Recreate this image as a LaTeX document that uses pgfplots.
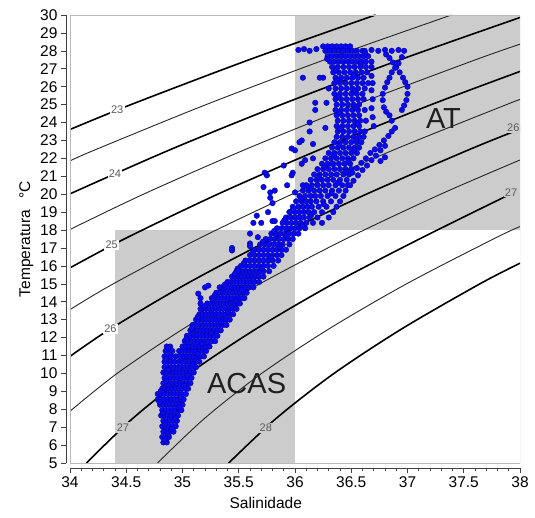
\documentclass[border=0pt]{standalone}
\usepackage{fontspec}
\setmainfont{Liberation Sans}
\usepackage{pgfplots}
\pgfplotsset{compat=1.18}
\usetikzlibrary{calc}

\definecolor{shade}{RGB}{204,204,204}
\definecolor{frame}{RGB}{185,185,185}
\definecolor{dotfill}{RGB}{10,10,240}
\definecolor{dotedge}{RGB}{0,0,160}
\definecolor{isolab}{RGB}{90,90,90}

\tikzset{
  isothick/.style={black, line width=1.6pt, smooth},
  isothin/.style={black!85, line width=0.9pt, smooth},
  isolabel/.style={font=\fontsize{11}{12}\selectfont, text=isolab, inner sep=1.2pt},
}

% temperature--salinity pairs of the CTD casts
\pgfplotstableread{
S T
34.83 6.15
34.86 6.15
34.82 6.45
34.85 6.45
34.88 6.45
34.83 6.75
34.86 6.75
34.89 6.75
34.92 6.75
34.82 7.05
34.85 7.05
34.88 7.05
34.91 7.05
34.94 7.05
34.83 7.35
34.86 7.35
34.89 7.35
34.92 7.35
34.95 7.35
34.81 7.65
34.84 7.65
34.87 7.65
34.90 7.65
34.93 7.65
34.96 7.65
34.82 7.95
34.85 7.95
34.88 7.95
34.91 7.95
34.94 7.95
34.97 7.95
34.99 7.95
34.80 8.25
34.83 8.25
34.86 8.25
34.89 8.25
34.92 8.25
34.95 8.25
34.98 8.25
35.00 8.25
34.78 8.55
34.81 8.55
34.84 8.55
34.87 8.55
34.90 8.55
34.93 8.55
34.96 8.55
34.99 8.55
35.01 8.55
34.78 8.85
34.81 8.85
34.84 8.85
34.87 8.85
34.90 8.85
34.93 8.85
34.96 8.85
34.99 8.85
35.03 8.85
34.82 9.15
34.85 9.15
34.88 9.15
34.91 9.15
34.94 9.15
34.97 9.15
35.00 9.15
35.03 9.15
35.05 9.15
34.83 9.45
34.86 9.45
34.89 9.45
34.92 9.45
34.95 9.45
34.98 9.45
35.01 9.45
35.04 9.45
35.07 9.45
34.84 9.75
34.87 9.75
34.90 9.75
34.93 9.75
34.96 9.75
34.99 9.75
35.02 9.75
35.05 9.75
35.08 9.75
34.83 10.05
34.86 10.05
34.89 10.05
34.92 10.05
34.95 10.05
34.98 10.05
35.01 10.05
35.04 10.05
35.07 10.05
35.10 10.05
34.84 10.35
34.87 10.35
34.90 10.35
34.93 10.35
34.96 10.35
34.99 10.35
35.02 10.35
35.05 10.35
35.08 10.35
35.12 10.35
34.84 10.65
34.87 10.65
34.90 10.65
34.93 10.65
34.97 10.65
35.00 10.65
35.03 10.65
35.06 10.65
35.09 10.65
35.12 10.65
35.15 10.65
34.84 10.95
34.87 10.95
34.90 10.95
34.94 10.95
34.98 10.95
35.01 10.95
35.04 10.95
35.07 10.95
35.10 10.95
35.13 10.95
35.16 10.95
35.19 10.95
34.85 11.25
34.88 11.25
34.91 11.25
34.97 11.25
35.00 11.25
35.03 11.25
35.06 11.25
35.09 11.25
35.12 11.25
35.15 11.25
35.18 11.25
35.21 11.25
34.86 11.50
34.89 11.50
35.00 11.50
35.03 11.50
35.06 11.50
35.09 11.50
35.12 11.50
35.15 11.50
35.18 11.50
35.21 11.50
35.24 11.50
35.02 11.80
35.05 11.80
35.08 11.80
35.11 11.80
35.14 11.80
35.17 11.80
35.20 11.80
35.23 11.80
35.26 11.80
35.29 11.80
35.04 12.10
35.07 12.10
35.10 12.10
35.13 12.10
35.16 12.10
35.19 12.10
35.22 12.10
35.25 12.10
35.28 12.10
35.31 12.10
35.07 12.40
35.10 12.40
35.13 12.40
35.16 12.40
35.19 12.40
35.22 12.40
35.25 12.40
35.28 12.40
35.31 12.40
35.34 12.40
35.09 12.70
35.12 12.70
35.15 12.70
35.18 12.70
35.21 12.70
35.24 12.70
35.27 12.70
35.30 12.70
35.33 12.70
35.36 12.70
35.39 12.70
35.12 13.00
35.15 13.00
35.18 13.00
35.21 13.00
35.24 13.00
35.27 13.00
35.30 13.00
35.33 13.00
35.36 13.00
35.39 13.00
35.42 13.00
35.15 13.30
35.18 13.30
35.21 13.30
35.24 13.30
35.27 13.30
35.30 13.30
35.33 13.30
35.36 13.30
35.39 13.30
35.42 13.30
35.45 13.30
35.18 13.60
35.21 13.60
35.24 13.60
35.27 13.60
35.30 13.60
35.33 13.60
35.36 13.60
35.39 13.60
35.42 13.60
35.45 13.60
35.48 13.60
35.22 13.90
35.25 13.90
35.28 13.90
35.31 13.90
35.34 13.90
35.37 13.90
35.40 13.90
35.43 13.90
35.46 13.90
35.49 13.90
35.51 13.90
35.26 14.20
35.29 14.20
35.32 14.20
35.35 14.20
35.38 14.20
35.41 14.20
35.44 14.20
35.47 14.20
35.50 14.20
35.53 14.20
35.55 14.20
35.30 14.50
35.33 14.50
35.36 14.50
35.39 14.50
35.42 14.50
35.45 14.50
35.48 14.50
35.51 14.50
35.54 14.50
35.57 14.50
35.35 14.80
35.38 14.80
35.41 14.80
35.44 14.80
35.47 14.80
35.50 14.80
35.53 14.80
35.56 14.80
35.59 14.80
35.63 14.80
35.40 15.10
35.43 15.10
35.46 15.10
35.49 15.10
35.52 15.10
35.55 15.10
35.58 15.10
35.61 15.10
35.64 15.10
35.68 15.10
35.44 15.40
35.47 15.40
35.50 15.40
35.53 15.40
35.56 15.40
35.59 15.40
35.62 15.40
35.65 15.40
35.68 15.40
35.72 15.40
35.48 15.70
35.51 15.70
35.54 15.70
35.57 15.70
35.60 15.70
35.63 15.70
35.66 15.70
35.69 15.70
35.72 15.70
35.77 15.70
35.52 16.00
35.56 16.00
35.60 16.00
35.64 16.00
35.68 16.00
35.72 16.00
35.76 16.00
35.81 16.00
35.56 16.30
35.60 16.30
35.64 16.30
35.68 16.30
35.72 16.30
35.76 16.30
35.80 16.30
35.85 16.30
35.60 16.60
35.64 16.60
35.68 16.60
35.72 16.60
35.76 16.60
35.80 16.60
35.84 16.60
35.88 16.60
35.64 16.90
35.68 16.90
35.72 16.90
35.76 16.90
35.80 16.90
35.84 16.90
35.88 16.90
35.92 16.90
35.69 17.20
35.73 17.20
35.77 17.20
35.81 17.20
35.85 17.20
35.89 17.20
35.95 17.20
35.74 17.50
35.78 17.50
35.82 17.50
35.86 17.50
35.90 17.50
35.94 17.50
35.98 17.50
35.79 17.80
35.83 17.80
35.87 17.80
35.91 17.80
35.95 17.80
35.99 17.80
36.03 17.80
35.84 18.10
35.88 18.10
35.92 18.10
35.96 18.10
36.00 18.10
36.04 18.10
36.09 18.10
35.89 18.40
35.93 18.40
35.97 18.40
36.01 18.40
36.05 18.40
36.10 18.40
36.16 18.40
36.24 18.40
35.92 18.70
35.96 18.70
36.00 18.70
36.04 18.70
36.08 18.70
36.13 18.70
36.20 18.70
36.30 18.70
35.95 19.00
36.00 19.00
36.04 19.00
36.08 19.00
36.12 19.00
36.17 19.00
36.24 19.00
36.34 19.00
35.98 19.30
36.03 19.30
36.07 19.30
36.11 19.30
36.15 19.30
36.21 19.30
36.28 19.30
36.37 19.30
36.01 19.60
36.06 19.60
36.10 19.60
36.14 19.60
36.19 19.60
36.25 19.60
36.32 19.60
36.40 19.60
36.04 19.90
36.09 19.90
36.14 19.90
36.18 19.90
36.23 19.90
36.29 19.90
36.36 19.90
36.43 19.90
36.07 20.20
36.12 20.20
36.17 20.20
36.22 20.20
36.27 20.20
36.33 20.20
36.39 20.20
36.45 20.20
36.10 20.50
36.15 20.50
36.20 20.50
36.25 20.50
36.30 20.50
36.36 20.50
36.42 20.50
36.47 20.50
36.14 20.80
36.19 20.80
36.24 20.80
36.29 20.80
36.34 20.80
36.40 20.80
36.46 20.80
36.17 21.10
36.22 21.10
36.27 21.10
36.32 21.10
36.37 21.10
36.43 21.10
36.48 21.10
36.20 21.40
36.25 21.40
36.30 21.40
36.35 21.40
36.40 21.40
36.45 21.40
36.50 21.40
36.24 21.70
36.29 21.70
36.34 21.70
36.39 21.70
36.44 21.70
36.49 21.70
36.27 22.00
36.32 22.00
36.37 22.00
36.42 22.00
36.47 22.00
36.52 22.00
36.30 22.30
36.35 22.30
36.40 22.30
36.45 22.30
36.50 22.30
36.55 22.30
36.33 22.60
36.38 22.60
36.43 22.60
36.48 22.60
36.53 22.60
36.57 22.60
36.35 22.90
36.40 22.90
36.45 22.90
36.50 22.90
36.55 22.90
36.59 22.90
36.37 23.20
36.42 23.20
36.47 23.20
36.52 23.20
36.57 23.20
36.61 23.20
36.38 23.50
36.43 23.50
36.48 23.50
36.53 23.50
36.58 23.50
36.62 23.50
36.37 23.80
36.42 23.80
36.47 23.80
36.52 23.80
36.57 23.80
36.38 24.10
36.43 24.10
36.48 24.10
36.53 24.10
36.58 24.10
36.63 24.10
36.37 24.40
36.42 24.40
36.47 24.40
36.52 24.40
36.57 24.40
36.36 24.70
36.41 24.70
36.46 24.70
36.51 24.70
36.56 24.70
36.62 24.70
36.37 25.00
36.42 25.00
36.47 25.00
36.52 25.00
36.57 25.00
36.36 25.30
36.41 25.30
36.46 25.30
36.51 25.30
36.56 25.30
36.61 25.30
36.35 25.60
36.40 25.60
36.45 25.60
36.50 25.60
36.55 25.60
36.60 25.60
36.36 25.90
36.41 25.90
36.46 25.90
36.51 25.90
36.56 25.90
36.62 25.90
36.35 26.20
36.40 26.20
36.45 26.20
36.50 26.20
36.55 26.20
36.60 26.20
36.65 26.20
36.36 26.50
36.41 26.50
36.46 26.50
36.51 26.50
36.56 26.50
36.61 26.50
36.34 26.80
36.39 26.80
36.44 26.80
36.49 26.80
36.54 26.80
36.59 26.80
36.64 26.80
36.33 27.10
36.38 27.10
36.43 27.10
36.48 27.10
36.53 27.10
36.58 27.10
36.63 27.10
36.68 27.10
36.31 27.40
36.35 27.40
36.39 27.40
36.43 27.40
36.47 27.40
36.51 27.40
36.55 27.40
36.59 27.40
36.63 27.40
36.68 27.40
36.29 27.70
36.33 27.70
36.37 27.70
36.41 27.70
36.45 27.70
36.49 27.70
36.53 27.70
36.57 27.70
36.61 27.70
36.65 27.70
36.27 28.00
36.31 28.00
36.35 28.00
36.39 28.00
36.43 28.00
36.47 28.00
36.51 28.00
36.55 28.00
36.60 28.00
36.25 28.25
36.29 28.25
36.33 28.25
36.37 28.25
36.41 28.25
36.45 28.25
36.49 28.25
36.03 28.05
36.08 28.10
36.13 28.00
36.19 28.10
36.62 28.00
36.68 28.05
36.74 28.00
36.80 28.05
36.86 28.00
36.92 28.05
36.97 28.00
36.81 27.80
36.84 27.60
36.87 27.35
36.90 27.10
36.93 26.80
36.96 26.50
36.98 26.25
37.00 26.00
37.00 25.60
36.99 25.25
36.97 24.95
36.95 24.70
36.95 27.65
36.92 27.30
36.89 27.05
36.86 26.80
36.84 26.50
36.82 26.25
36.80 25.95
36.78 25.60
36.78 25.25
36.79 24.85
36.81 24.60
36.84 24.40
36.86 24.10
36.68 26.60
36.69 26.20
36.68 25.80
36.69 25.30
36.68 24.80
36.69 24.30
36.70 23.80
36.89 23.70
36.86 23.50
36.83 23.25
36.79 23.00
36.75 22.75
36.71 22.50
36.67 22.30
36.63 22.00
36.59 21.75
36.55 21.45
36.51 21.20
36.80 22.70
36.76 22.45
36.72 22.15
36.68 21.90
36.64 21.60
36.60 21.35
36.56 21.05
36.52 20.75
36.49 20.50
36.80 22.06
36.76 21.85
36.07 26.50
36.25 26.50
36.22 26.50
36.18 25.10
36.28 25.10
36.30 25.90
36.18 24.70
36.13 24.00
36.27 23.70
36.13 23.50
36.06 23.00
36.16 22.80
36.04 22.90
35.97 22.55
36.00 22.45
36.09 21.90
36.16 22.00
36.33 21.70
36.06 21.70
35.98 21.20
35.90 21.60
35.97 21.05
35.75 21.05
35.73 21.20
36.07 20.50
35.93 20.50
36.00 20.10
35.82 20.20
35.78 20.10
35.72 20.40
35.78 19.80
35.80 19.50
35.76 19.00
35.96 19.00
35.66 18.80
35.63 18.40
35.70 18.40
35.80 18.50
35.82 18.50
35.60 17.80
35.67 17.60
35.60 17.25
35.60 17.10
35.44 17.00
35.44 16.86
35.49 15.85
35.49 15.74
35.33 14.80
35.23 14.90
35.20 14.80
35.14 14.45
35.16 14.20
35.16 13.90
35.16 13.60
34.845 6.30
34.875 6.60
34.905 6.90
34.845 7.20
34.935 7.50
34.825 7.80
34.965 8.10
34.795 8.40
34.985 8.70
34.805 9.00
35.015 9.30
34.855 9.60
35.045 9.90
34.875 10.20
35.095 10.50
34.855 10.80
35.135 11.10
34.875 11.40
35.175 11.65
35.035 11.95
35.255 12.25
35.085 12.55
35.345 12.85
35.135 13.15
35.405 13.45
35.195 13.75
35.475 14.05
35.285 14.35
35.525 14.65
35.375 14.95
35.625 15.25
35.465 15.55
35.705 15.85
35.545 16.15
35.785 16.45
35.625 16.75
35.865 17.05
35.715 17.35
35.925 17.65
35.815 17.95
36.065 18.25
35.905 18.55
36.145 18.85
35.985 19.15
36.255 19.45
36.055 19.75
36.325 20.05
36.125 20.35
36.385 20.65
36.215 20.95
36.455 21.25
36.265 21.55
36.475 21.85
36.345 22.15
36.525 22.45
36.395 22.75
36.545 23.05
36.405 23.65
36.555 23.95
36.395 24.55
36.545 24.85
36.385 25.45
36.535 25.75
36.375 26.35
36.525 26.65
36.365 26.95
36.585 27.25
36.285 27.55
36.625 27.85
}\castdata

\begin{document}
\begin{tikzpicture}
\begin{axis}[
  name=ax,
  scale only axis, width=450pt, height=448pt,
  xmin=34, xmax=38, ymin=5, ymax=30,
  axis lines*=left,
  axis x line shift=5pt, axis y line shift=4pt,
  axis line style={black!75, line width=0.6pt, -},
  xtick={34,34.5,35,35.5,36,36.5,37,37.5,38},
  xticklabels={34,34.5,35,35.5,36,36.5,37,37.5,38},
  minor x tick num=4,
  ytick={5,6,...,30},
  tick align=outside,
  major tick length=5pt, minor tick length=3pt,
  tick style={black!75, line width=0.6pt},
  /pgf/number format/assume math mode=true,
  ticklabel style={font=\fontsize{15.5}{18}\selectfont},
  xlabel={Salinidade}, ylabel={Temperatura\hspace{12pt}°C},
  label style={font=\fontsize{15.5}{18}\selectfont},
  xlabel style={at={(axis description cs:0.435,0)}, anchor=north, yshift=-31pt},
]
% water-mass boxes
\addplot[fill=shade, draw=none] coordinates {(34.4,5) (36,5) (36,18) (34.4,18) (34.4,5)} -- cycle;
\addplot[fill=shade, draw=none] coordinates {(36,18) (38,18) (38,30) (36,30) (36,18)} -- cycle;

% sigma-t isopycnals
\addplot[isothick] coordinates {(34,23.61) (34.542,25) (35.591,27.5) (36.715,30)};
\addplot[isothin]  coordinates {(34,21.86) (34.232,22.5) (35.210,25) (36.262,27.5) (37.390,30)};
\addplot[isothick] coordinates {(34,20.02) (34.896,22.5) (35.877,25) (36.933,27.5) (38,29.86)};
\addplot[isothin]  coordinates {(34,18.03) (34.653,20) (35.560,22.5) (36.545,25) (37.604,27.5) (38,28.37)};
\addplot[isothick] coordinates {(34,15.89) (34.482,17.5) (35.313,20) (36.224,22.5) (37.212,25) (38,26.85)};
\addplot[isothin]  coordinates {(34,13.56) (34.385,15) (35.138,17.5) (35.974,20) (36.888,22.5) (37.880,25) (38,25.28)};
\addplot[isothick] coordinates {(34,10.95) (34.363,12.5) (35.037,15) (35.794,17.5) (36.634,20) (37.553,22.5) (38,23.63)};
\addplot[isothin]  coordinates {(34,7.89) (34.419,10) (35.010,12.5) (35.688,15) (36.450,17.5) (37.295,20) (38,21.91)};
\addplot[isothick] coordinates {(34.146,5) (34.560,7.5) (35.062,10) (35.658,12.5) (36.340,15) (37.106,17.5) (37.880,19.9)};
\addplot[isothin]  coordinates {(34.778,5) (35.198,7.5) (35.704,10) (36.306,12.5) (36.992,15) (37.763,17.5) (38,18.2)};
\addplot[isothick] coordinates {(35.411,5) (35.835,7.5) (36.347,10) (36.953,12.5) (37.644,15) (38,16.15)};

% isopycnal labels
\node[isolabel, fill=white] at (axis cs:34.42,24.72) {23};
\node[isolabel, fill=white] at (axis cs:34.40,21.15) {24};
\node[isolabel, fill=white] at (axis cs:34.37,17.18) {25};
\node[isolabel, fill=white] at (axis cs:34.36,12.50) {26};
\node[isolabel, fill=shade] at (axis cs:34.47,6.98) {27};
\node[isolabel, fill=shade] at (axis cs:35.74,6.95) {28};
\node[isolabel, fill=shade] at (axis cs:37.94,23.70) {26};
\node[isolabel, fill=shade] at (axis cs:37.92,20.10) {27};

% observations
\addplot[only marks, mark=*, mark size=2.8pt,
  mark options={fill=dotfill, draw=dotedge, line width=0.35pt}]
  table[x=S, y=T] {\castdata};

% water masses
\node[font=\fontsize{29}{32}\selectfont, text=black!88] at (axis cs:37.32,24.25) {AT};
\node[font=\fontsize{29}{32}\selectfont, text=black!88] at (axis cs:35.57,9.45) {ACAS};

% plot frame
\draw[frame, line width=0.7pt] (rel axis cs:0,0) rectangle (rel axis cs:1,1);
\end{axis}
\pgfresetboundingbox
\path ($(ax.south west)+(-70pt,-54pt)$) rectangle ($(ax.north east)+(15pt,15pt)$);
\end{tikzpicture}
\end{document}
